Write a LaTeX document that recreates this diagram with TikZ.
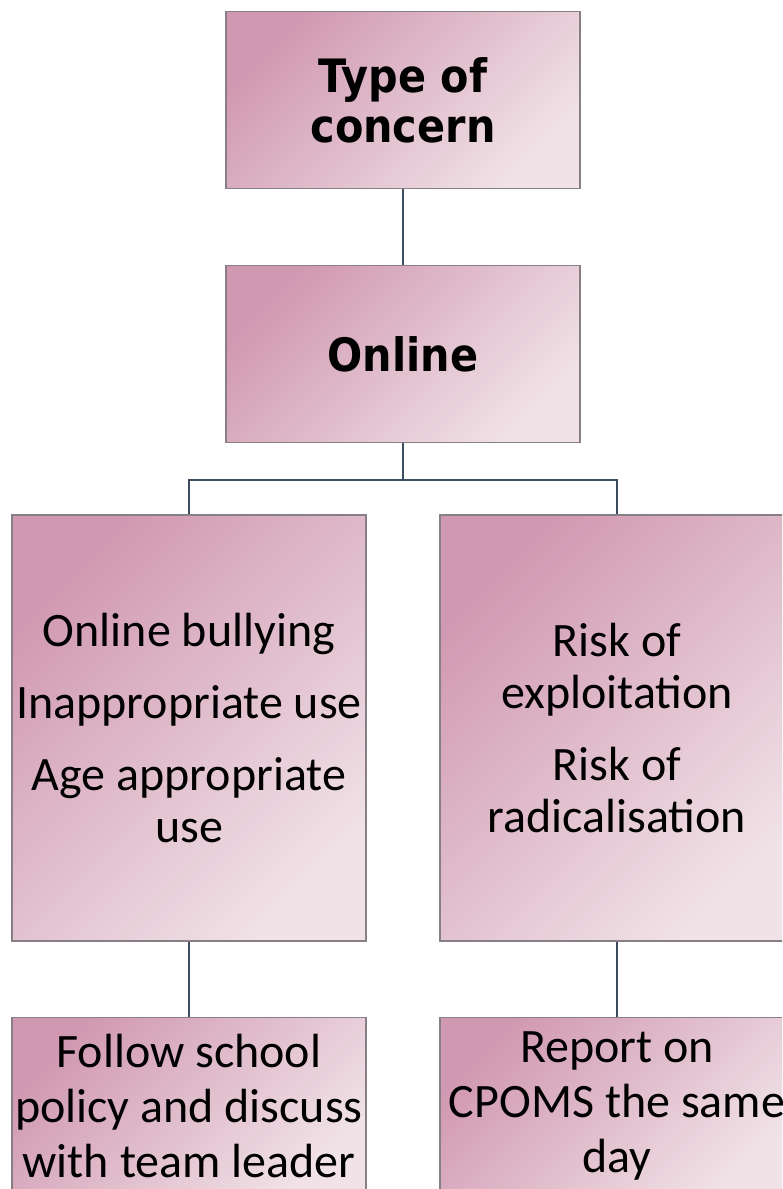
\documentclass[tikz,border=0pt]{standalone}
\usepackage{fontspec}
\setmainfont{Carlito}
\newfontfamily\headfont[FakeStretch=0.9]{DejaVu Sans}
\usetikzlibrary{positioning}
\definecolor{pinkdark}{RGB}{209,153,177}
\definecolor{pinklight}{RGB}{240,226,231}
\definecolor{boxrim}{RGB}{135,126,134}
\definecolor{linkcol}{RGB}{62,76,96}
\tikzset{%
  concern/.style = {shape=rectangle, draw=boxrim, line width=1.2pt,%
                    align=center, inner sep=0pt,%
                    minimum width=354pt, minimum height=177pt,%
                    top color=pinkdark, bottom color=pinklight,%
                    shading angle=45,%
                    font=\fontsize{48}{55}\selectfont},%
  heading/.style = {concern, font=\headfont\bfseries\fontsize{46}{50}\selectfont},%
  tallbox/.style = {concern, minimum height=426pt,%
                    font=\fontsize{48}{52}\selectfont},%
  link/.style    = {draw=linkcol, line width=2pt}%
}
\begin{document}
\begin{tikzpicture}[x=1pt,y=-1pt]%
	\useasboundingbox (0,0) rectangle (782,1189);%
	\clip (0,0) rectangle (782,1189);%
	% top of the chart
	\node [heading] (kind) at (403,100) {Type of\\concern};%
	\node [heading, below=76pt of kind] (online) {Online};%
	\coordinate [below=37pt of online.south] (split);%
	% the two kinds of online concern
	\node [tallbox] (bully) at (189,728)%
		{Online bullying\\[20pt]Inappropriate use\\[20pt]Age appropriate\\use};%
	\node [tallbox] (risk) at (617,728)%
		{Risk of\\exploitation\\[20pt]Risk of\\radicalisation};%
	% what to do
	\node [concern, below=75pt of bully] (policy)%
		{Follow school\\policy and discuss\\with team leader};%
	\node [concern, below=75pt of risk] (report)%
		{Report on\\CPOMS the same\\day};%
	\draw [link] (kind) -- (online);%
	\draw [link] (online) -- (split) -| (bully);%
	\draw [link] (split) -| (risk);%
	\draw [link] (bully) -- (policy);%
	\draw [link] (risk) -- (report);%
\end{tikzpicture}
\end{document}
